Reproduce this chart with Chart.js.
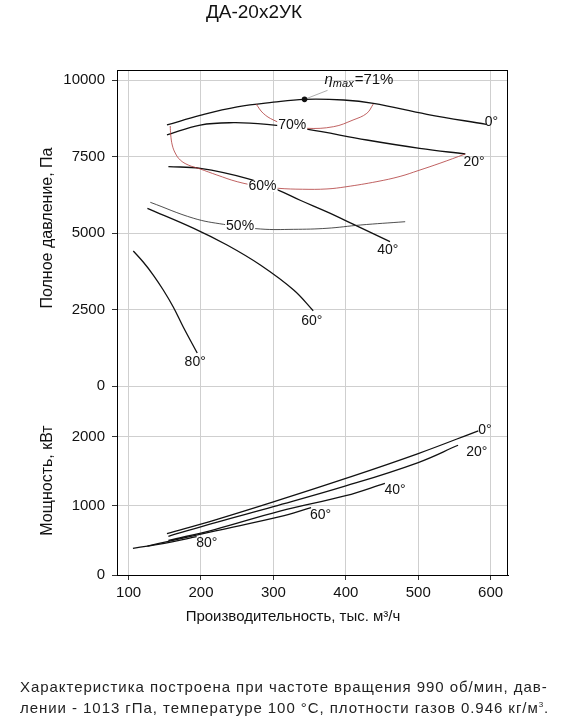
<!DOCTYPE html>
<html>
<head>
<meta charset="utf-8">
<script src="https://cdn.jsdelivr.net/npm/chart.js@4"></script>
<style>
  html, body { margin: 0; padding: 0; background: #fff; }
  #wrap { position: relative; width: 561px; height: 722px; }
  #note { position: absolute; left: 20px; top: 678px; font: 15px 'Liberation Sans', Arial, sans-serif; letter-spacing: 0.95px; line-height: 18px; color: #222; white-space: nowrap; }
  #note sup { font-size: 8px; }
</style>
</head>
<body>
<div id="wrap">
  <canvas id="c" width="561" height="722"></canvas>
  <div id="note">Характеристика построена при частоте вращения 990 об/мин, дав-<br>лении - 1013 гПа, температуре 100 °С, плотности газов 0.946 кг/м<sup>3</sup>.</div>
</div>
<script>
// ---- Data (Q in thousand m3/h) ----
// Total pressure, Pa, for blade angles
const press0Q  = [153, 200, 250, 300, 343, 397, 438, 512, 594];
const press0P  = [8530, 8850, 9120, 9275, 9368, 9346, 9238, 8880, 8550];
const press20Q = [153, 199, 245, 291, 346, 429, 502, 565];
const press20P = [8203, 8529, 8605, 8552, 8395, 8039, 7767, 7582];
const press40Q = [155, 199, 263, 305, 337, 374, 410, 461];
const press40P = [7167, 7114, 6788, 6420, 6070, 5690, 5290, 4716];
const press60Q = [126, 190, 236, 282, 328, 355];
const press60P = [5807, 5154, 4608, 3954, 3137, 2461];
const press80Q = [106.5, 120.2, 134.1, 147.9, 161.7, 175.5, 194.8];
const press80P = [4412, 4052, 3627, 3137, 2582, 1928, 1078];

// Efficiency iso-lines (pressure panel)
const eff70Q = [276, 286, 300, 320, 346, 383, 410, 429, 438];
const eff70P = [9216, 8911, 8693, 8520, 8421, 8474, 8693, 8911, 9216];
const eff60Q = [157.5, 158.2, 160.3, 164.4, 171.3, 182.4, 198.9, 222, 250, 280, 307, 340, 374, 400, 443, 475, 500, 530, 565];
const eff60P = [8497, 8203, 7876, 7614, 7386, 7222, 7092, 6895, 6677, 6530, 6460, 6430, 6440, 6510, 6680, 6850, 7040, 7280, 7582];
const eff50Q = [130, 190, 231, 282, 328, 374, 420, 482];
const eff50P = [6003, 5480, 5284, 5131, 5120, 5154, 5261, 5369];

// Max efficiency point
const etaMaxQ = 343, etaMaxP = 9368;

// Power, kW
const pow0Q  = [153, 220, 300, 400, 500, 583];
const pow0N  = [600, 800, 1060, 1400, 1760, 2090];
const pow20Q = [155, 220, 300, 400, 500, 555];
const pow20N = [560, 760, 990, 1290, 1630, 1880];
const pow40Q = [155, 220, 309, 400, 454];
const pow40N = [500, 662, 925, 1150, 1329];
const pow60Q = [126, 155, 220, 309, 352];
const pow60N = [420, 488, 640, 845, 975];
const pow80Q = [106, 126, 160, 194];
const pow80N = [387, 420, 480, 555];

// Tick values
const xTicks = [100, 200, 300, 400, 500, 600];
const pTicks = [0, 2500, 5000, 7500, 10000];
const nTicks = [0, 1000, 2000];

// Curve labels: [text, Q, value, axis]
const curveLabels = [
  ['0°', 601, 8627, 'yP'], ['20°', 577, 7320, 'yP'], ['40°', 458, 4444, 'yP'],
  ['60°', 353, 2124, 'yP'], ['80°', 192, 784, 'yP'],
  ['0°', 592, 2101, 'yN'], ['20°', 581, 1787, 'yN'], ['40°', 468, 1232, 'yN'],
  ['60°', 365, 870, 'yN'], ['80°', 208, 459, 'yN']
];
const effLabels = [['70%', 326, 8529], ['60%', 285, 6536], ['50%', 254, 5212]];

// ---- Chart ----
const FONT = "'Liberation Sans', Arial, sans-serif";
Chart.defaults.font.family = FONT;
Chart.defaults.color = '#111';

const pts = (qs, vs) => qs.map((q, i) => ({ x: q, y: vs[i] }));
const mainLine = (data, axis) => ({ data, yAxisID: axis, borderColor: '#111', borderWidth: 1.3, pointRadius: 0, tension: 0.4, fill: false });
const effLine = (data, color) => ({ data, yAxisID: 'yP', borderColor: color, borderWidth: 0.8, pointRadius: 0, tension: 0.4, fill: false });

const datasets = [
  effLine(pts(eff70Q, eff70P), '#b03a3a'),
  effLine(pts(eff60Q, eff60P), '#b03a3a'),
  effLine(pts(eff50Q, eff50P), '#222'),
  mainLine(pts(press0Q, press0P), 'yP'),
  mainLine(pts(press20Q, press20P), 'yP'),
  mainLine(pts(press40Q, press40P), 'yP'),
  mainLine(pts(press60Q, press60P), 'yP'),
  mainLine(pts(press80Q, press80P), 'yP'),
  mainLine(pts(pow0Q, pow0N), 'yN'),
  mainLine(pts(pow20Q, pow20N), 'yN'),
  mainLine(pts(pow40Q, pow40N), 'yN'),
  mainLine(pts(pow60Q, pow60N), 'yN'),
  mainLine(pts(pow80Q, pow80N), 'yN')
];

const annot = {
  id: 'annot',
  afterDatasetsDraw(chart) {
    const ctx = chart.ctx;
    const sx = chart.scales.x;
    ctx.save();
    ctx.font = '14px ' + FONT;
    ctx.textAlign = 'center';
    ctx.textBaseline = 'middle';
    effLabels.forEach(([t, q, v]) => {
      const x = sx.getPixelForValue(q), y = chart.scales.yP.getPixelForValue(v);
      const w = ctx.measureText(t).width;
      ctx.fillStyle = '#fff';
      ctx.fillRect(x - w / 2 - 1, y - 6, w + 2, 12);
      ctx.fillStyle = '#111';
      ctx.fillText(t, x, y);
    });
    curveLabels.forEach(([t, q, v, ax]) => {
      ctx.fillStyle = '#111';
      ctx.fillText(t, sx.getPixelForValue(q), chart.scales[ax].getPixelForValue(v));
    });
    const dx = sx.getPixelForValue(etaMaxQ), dy = chart.scales.yP.getPixelForValue(etaMaxP);
    ctx.strokeStyle = '#999';
    ctx.lineWidth = 0.8;
    ctx.beginPath();
    ctx.moveTo(dx, dy);
    ctx.lineTo(dx + 23, dy - 9);
    ctx.stroke();
    ctx.fillStyle = '#111';
    ctx.beginPath();
    ctx.arc(dx, dy, 2.8, 0, Math.PI * 2);
    ctx.fill();
    ctx.textAlign = 'left';
    ctx.textBaseline = 'alphabetic';
    let lx = dx + 20, ly = dy - 15;
    ctx.font = 'italic 15px ' + FONT;
    ctx.fillText('η', lx, ly);
    lx += ctx.measureText('η').width;
    ctx.font = 'italic 11px ' + FONT;
    ctx.fillText('max', lx, ly + 3);
    lx += ctx.measureText('max').width;
    ctx.font = '15px ' + FONT;
    ctx.fillText('=71%', lx + 1, ly);
    ctx.restore();
  },
  afterDraw(chart) {
    const ctx = chart.ctx, a = chart.chartArea;
    ctx.save();
    ctx.strokeStyle = '#000';
    ctx.lineWidth = 1;
    ctx.strokeRect(Math.round(a.left) + 0.5, Math.round(a.top) + 0.5, Math.round(a.right - a.left) - 1, Math.round(a.bottom - a.top));
    ctx.font = '15px ' + FONT;
    ctx.fillStyle = '#111';
    ctx.textAlign = 'center';
    ctx.textBaseline = 'middle';
    ctx.fillText('Производительность, тыс. м³/ч', 293, 617);
    ctx.restore();
  }
};

const gridOpts = { color: '#cfcfcf', lineWidth: 1, tickColor: '#333', tickLength: 5 };
const plain = v => String(v);

new Chart(document.getElementById('c'), {
  type: 'line',
  data: { datasets },
  plugins: [annot],
  options: {
    responsive: false,
    animation: false,
    devicePixelRatio: 1,
    layout: { padding: { right: 53, left: 0, top: 0, bottom: 0 } },
    plugins: {
      legend: { display: false },
      tooltip: { enabled: false },
      title: { display: true, text: 'ДА-20х2УК', font: { size: 19, weight: 'normal' }, color: '#111', padding: { top: 1, bottom: 46.2 } }
    },
    scales: {
      x: {
        type: 'linear', min: 84, max: 624,
        afterFit: s => { s.height = 147; },
        afterBuildTicks: s => { s.ticks = xTicks.map(v => ({ value: v })); },
        grid: gridOpts,
        border: { color: '#000' },
        ticks: { font: { size: 15 }, padding: 4, color: '#111', callback: plain }
      },
      yN: {
        type: 'linear', position: 'left', stack: 'v', stackWeight: 189, weight: 0,
        min: 0, max: 2739,
        afterFit: s => { s.width = 117; },
        afterBuildTicks: s => { s.ticks = nTicks.map(v => ({ value: v })); },
        grid: gridOpts,
        border: { color: '#000' },
        ticks: { font: { size: 15 }, padding: 7, color: '#111', callback: plain },
        title: { display: true, text: 'Мощность, кВт', font: { size: 16 }, color: '#111', padding: { top: 38, bottom: 0 } }
      },
      yP: {
        type: 'linear', position: 'left', stack: 'v', stackWeight: 316, weight: 1,
        min: 0, max: 10327,
        afterFit: s => { s.width = 117; },
        afterBuildTicks: s => { s.ticks = pTicks.map(v => ({ value: v })); },
        grid: gridOpts,
        border: { color: '#000' },
        ticks: { font: { size: 15 }, padding: 7, color: '#111', callback: plain },
        title: { display: true, text: 'Полное давление, Па', font: { size: 16 }, color: '#111', padding: { top: 38, bottom: 0 } }
      }
    }
  }
});
</script>
</body>
</html>
